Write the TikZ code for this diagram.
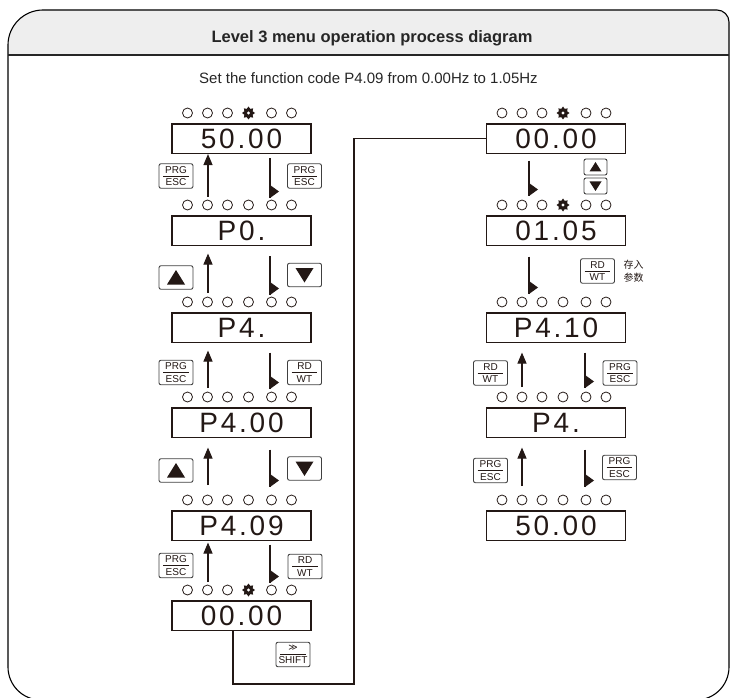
\documentclass[tikz,border=0pt]{standalone}
\usepackage{fontspec}
\setmainfont{Liberation Sans}
\newfontfamily\segfont[LetterSpace=10]{Liberation Sans}
\newfontfamily\cjkfont{Noto Sans CJK SC}
\newfontfamily\symfont{DejaVu Sans}
\usetikzlibrary{shapes.geometric,arrows.meta,calc}
\definecolor{ink}{RGB}{35,24,21}
\definecolor{hdr}{RGB}{238,238,238}
\newcommand\ledrow[4]{% #1 west x, #2 y, #3 star flag, #4 name
  \foreach \o in {15.5,35.5,55.5,99.5,119.5}{\draw[ink,line width=0.8pt] (#1+\o,#2) circle (5pt);}
  \ifnum#3=1
    \node[gear] (#4) at (#1+76.5,#2) {};
    \fill[white] (#4.center) circle (1.7pt);
  \else
    \draw[ink,line width=0.8pt] (#1+76.5,#2) circle (5pt);
  \fi}
\newcommand\rtri[1]{\fill[ink] (#1) -- ++(0,-13) -- ++(9,6.5) -- cycle;}
\newcommand\divline[1]{\draw[ink,line width=0.7pt] ([xshift=4.5pt]#1.west) -- ([xshift=-4.5pt]#1.east);}
\newcommand\uptri[1]{\fill[ink] ($(#1.center)+(-9,7)$) -- ($(#1.center)+(9,7)$) -- ($(#1.center)+(0,-7.5)$) -- cycle;}
\newcommand\dntri[1]{\fill[ink] ($(#1.center)+(-9,-7)$) -- ($(#1.center)+(9,-7)$) -- ($(#1.center)+(0,7.5)$) -- cycle;}
\newcommand\suptri[1]{\fill[ink] ($(#1.center)+(-6,4.5)$) -- ($(#1.center)+(6,4.5)$) -- ($(#1.center)+(0,-5)$) -- cycle;}
\newcommand\sdntri[1]{\fill[ink] ($(#1.center)+(-6,-4.5)$) -- ($(#1.center)+(6,-4.5)$) -- ($(#1.center)+(0,5)$) -- cycle;}
\tikzset{
  disp/.style={draw=ink,line width=1.1pt,minimum width=139pt,minimum height=29.5pt,inner sep=0pt,text=ink,font=\segfont\fontsize{28}{28}\selectfont},
  btn/.style={draw=black!75,line width=0.9pt,rounded corners=2pt,fill=white,minimum width=34pt,minimum height=24.5pt,inner sep=0pt,align=center,text=ink,font=\fontsize{10}{12.5}\selectfont},
  tbtn/.style={btn,minimum height=23.5pt},
  sbtn/.style={btn,minimum width=23pt,minimum height=16pt},
  gear/.style={star,star points=8,star point ratio=1.45,fill=ink,minimum size=13pt,inner sep=0pt},
  conn/.style={ink,line width=1.1pt},
  upa/.style={conn,-{Triangle[width=9pt,length=11pt]}},
}
\begin{document}
\begin{tikzpicture}[x=1pt,y=-1pt]
\useasboundingbox (0,0) rectangle (734,698);
\begin{scope}
\clip (0,0) rectangle (734,698);
% header band
\fill[hdr] (8,55) -- (8,45) .. controls (8,25.7) and (23.7,10) .. (43,10) -- (717,10) .. controls (723.6,10) and (729,15.4) .. (729,22) -- (729,55) -- cycle;
\draw[black,line width=1.1pt] (8,500) -- (8,45) .. controls (8,25.7) and (23.7,10) .. (43,10) -- (717,10) .. controls (723.6,10) and (729,15.4) .. (729,22) -- (729,667) .. controls (729,685.2) and (714.2,700) .. (696,700) -- (41,700) .. controls (22.8,700) and (8,685.2) .. (8,667) -- cycle;
\draw[black!85,line width=1.4pt] (8,55) -- (729,55);
\end{scope}
\node[anchor=base,font=\bfseries\fontsize{16.5}{18}\selectfont,text=black!85] (title) at (372,43) {Level 3 menu operation process diagram};
\node[anchor=base,font=\fontsize{15}{18}\selectfont,text=black!85] (sub) at (368.5,84) {Set the function code P4.09 from 0.00Hz to 1.05Hz};
% left column displays
\node[disp] (L1) at (241.5,138.75) {50.00};
\node[disp] (L2) at (241.5,230.75) {P0.};
\node[disp] (L3) at (241.5,327.75) {P4.};
\node[disp] (L4) at (241.5,422.75) {P4.00};
\node[disp] (L5) at (241.5,525.75) {P4.09};
\node[disp] (L6) at (241.5,615.75) {00.00};
% right column displays
\node[disp] (R1) at (556,138.75) {00.00};
\node[disp] (R2) at (556,230.75) {01.05};
\node[disp] (R3) at (556,327.75) {P4.10};
\node[disp] (R4) at (556,422.75) {P4.};
\node[disp] (R5) at (556,525.75) {50.00};
% indicator rows
\ledrow{172}{113}{1}{g1}
\ledrow{172}{205}{0}{x}
\ledrow{172}{302}{0}{x}
\ledrow{172}{397}{0}{x}
\ledrow{172}{500}{0}{x}
\ledrow{172}{590}{1}{g2}
\ledrow{486.5}{113}{1}{g3}
\ledrow{486.5}{205}{1}{g4}
\ledrow{486.5}{302}{0}{x}
\ledrow{486.5}{397}{0}{x}
\ledrow{486.5}{500}{0}{x}
% left arrows
\coordinate (u1) at (208,197); \coordinate (d1) at (270,198);
\coordinate (u2) at (208,293); \coordinate (d2) at (270,295);
\coordinate (u3) at (208,388); \coordinate (d3) at (270,389);
\coordinate (u4) at (208,485); \coordinate (d4) at (270,487);
\coordinate (u5) at (208,582); \coordinate (d5) at (270,583);
\draw[upa] (u1) -- (L1.south -| u1);
\draw[upa,shorten >=7.5pt] (u2) -- (L2.south -| u2);
\draw[upa,shorten >=7.5pt] (u3) -- (L3.south -| u3);
\draw[upa,shorten >=9.5pt] (u4) -- (L4.south -| u4);
\draw[upa,shorten >=1.5pt] (u5) -- (L5.south -| u5);
\draw[conn,shorten <=4pt] (L1.south -| d1) -- (d1); \rtri{d1}
\draw[conn,shorten <=10pt] (L2.south -| d2) -- (d2); \rtri{d2}
\draw[conn,shorten <=9.5pt] (L3.south -| d3) -- (d3); \rtri{d3}
\draw[conn,shorten <=11.5pt] (L4.south -| d4) -- (d4); \rtri{d4}
\draw[conn,shorten <=3.5pt] (L5.south -| d5) -- (d5); \rtri{d5}
% right arrows
\coordinate (e1) at (529,196); \coordinate (e2) at (529,294);
\coordinate (v3) at (522,387); \coordinate (e3) at (585,388);
\coordinate (v4) at (522,486); \coordinate (e4) at (585,487);
\draw[conn,shorten <=6.5pt] (R1.south -| e1) -- (e1); \rtri{e1}
\draw[conn,shorten <=10.5pt] (R2.south -| e2) -- (e2); \rtri{e2}
\draw[upa,shorten >=9.5pt] (v3) -- (R3.south -| v3);
\draw[conn,shorten <=9.5pt] (R3.south -| e3) -- (e3); \rtri{e3}
\draw[upa,shorten >=9.5pt] (v4) -- (R4.south -| v4);
\draw[conn,shorten <=11.5pt] (R4.south -| e4) -- (e4); \rtri{e4}
% left buttons
\node[btn] (k1) at (176,176) {PRG\\ESC}; \divline{k1}
\node[btn] (k2) at (304.5,176) {PRG\\ESC}; \divline{k2}
\node[tbtn] (k3) at (176,277.5) {}; \uptri{k3}
\node[tbtn] (k4) at (304.5,275) {}; \dntri{k4}
\node[btn] (k5) at (176,372.5) {PRG\\ESC}; \divline{k5}
\node[btn] (k6) at (304.5,372.5) {RD\\WT}; \divline{k6}
\node[tbtn] (k7) at (176,470.5) {}; \uptri{k7}
\node[tbtn] (k8) at (304.5,468.5) {}; \dntri{k8}
\node[btn] (k9) at (176,565.5) {PRG\\ESC}; \divline{k9}
\node[btn] (k10) at (305,566.5) {RD\\WT}; \divline{k10}
\node[btn] (k11) at (293,654.5) {{\symfont\fontsize{9}{9}\selectfont ≫}\\SHIFT}; \divline{k11}
% right buttons
\node[sbtn] (m1) at (595.5,167) {}; \suptri{m1}
\node[sbtn] (m2) at (595.5,186) {}; \sdntri{m2}
\node[btn] (m3) at (597.5,271) {RD\\WT}; \divline{m3}
\node[anchor=west,align=left,text=ink,font=\cjkfont\fontsize{10}{13}\selectfont] (cn) at (620,271) {存入\\参数};
\node[btn] (m4) at (490.5,373) {RD\\WT}; \divline{m4}
\node[btn] (m5) at (620,373) {PRG\\ESC}; \divline{m5}
\node[btn] (m6) at (490.5,470.5) {PRG\\ESC}; \divline{m6}
\node[btn] (m7) at (619.5,467.5) {PRG\\ESC}; \divline{m7}
% SHIFT connector
\coordinate (c1) at (233,684); \coordinate (c2) at (354,684);
\draw[conn] (L6.south -| c1) -- (c1) -- (c2) |- (R1.west);
\end{tikzpicture}
\end{document}
